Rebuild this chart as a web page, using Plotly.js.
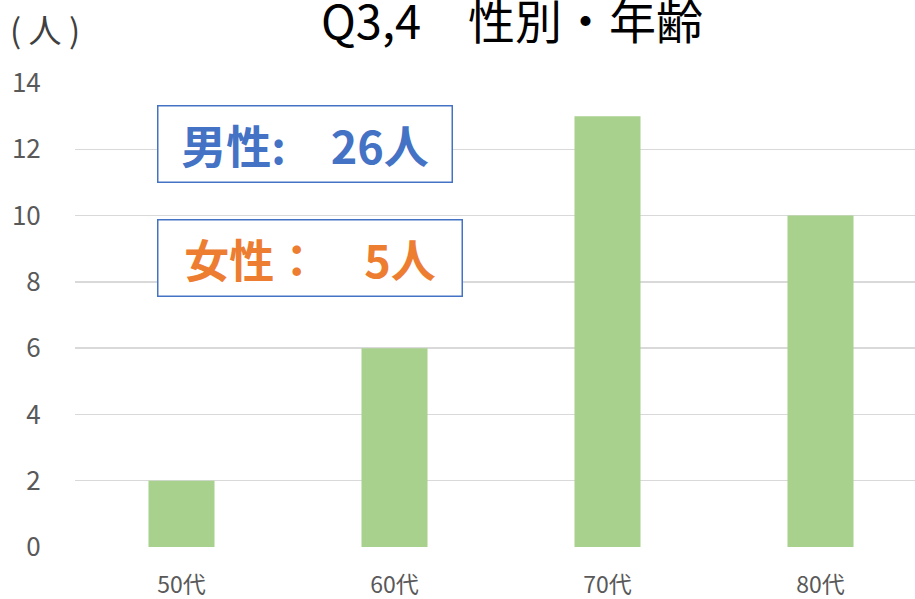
<!DOCTYPE html>
<html><head><meta charset="utf-8">
<script src="https://cdn.plot.ly/plotly-3.0.1.min.js"></script>
<style>html,body{margin:0;padding:0;background:#fff}#chart{width:915px;height:599px}</style>
</head><body><div id="chart"></div>
<script>
const categories = ['50代', '60代', '70代', '80代'];
const counts = [2, 6, 13, 10];
const yTicks = [0, 2, 4, 6, 8, 10, 12, 14];
const titleText = 'Q3,4　性別・年齢';
const yUnit = '( 人 )';
const maleLabel = '男性:　26人';
const femaleLabel = '女性：　5人';

const JP = '"Noto Sans CJK JP", "Noto Sans", sans-serif';
const L = 75, T = 83, W = 840, H = 464;
const px = x => (x - L) / W;
const py = y => (T + H - y) / H;

const trace = {
  type: 'bar', x: categories, y: counts,
  marker: {color: '#A9D18E'}, hoverinfo: 'none'
};

const layout = {
  width: 915, height: 599,
  margin: {l: L, r: 0, t: T, b: 599 - T - H},
  paper_bgcolor: '#fff', plot_bgcolor: '#fff',
  showlegend: false, bargap: 0.69,
  title: {text: titleText, font: {family: JP, size: 47, color: '#000'},
          x: px(512), xref: 'paper', xanchor: 'center', y: 1 - 23/599, yref: 'container', yanchor: 'middle'},
  xaxis: {
    type: 'category', range: [-0.5, -0.5 + W / 213], showgrid: false, zeroline: false,
    showline: false, ticks: 'outside', ticklen: 17, tickcolor: 'rgba(0,0,0,0)',
    tickfont: {family: JP, size: 23, color: '#595959'}
  },
  yaxis: {
    range: [0, 14], tickvals: yTicks, showgrid: true, gridcolor: '#d9d9d9', gridwidth: 1.5,
    zeroline: false, showline: false, ticks: 'outside', ticklen: 28, tickcolor: 'rgba(0,0,0,0)',
    tickfont: {family: JP, size: 26, color: '#595959'}
  },
  annotations: [
    {text: yUnit, xref: 'paper', yref: 'paper', x: px(45), y: py(29), xanchor: 'center', yanchor: 'middle',
     showarrow: false, font: {family: JP, size: 33, color: '#404040'}},
    {text: '<b>' + maleLabel + '</b>', xref: 'paper', yref: 'paper', x: px(305), y: py(144),
     xanchor: 'center', yanchor: 'middle', showarrow: false, width: 293, height: 75, borderpad: 0,
     bordercolor: '#4472C4', borderwidth: 1.5, bgcolor: '#fff', align: 'center', valign: 'middle',
     font: {family: JP, size: 45, color: '#4472C4'}},
    {text: '<b>' + femaleLabel + '</b>', xref: 'paper', yref: 'paper', x: px(310), y: py(258),
     xanchor: 'center', yanchor: 'middle', showarrow: false, width: 303, height: 75, borderpad: 0,
     bordercolor: '#4472C4', borderwidth: 1.5, bgcolor: '#fff', align: 'center', valign: 'middle',
     font: {family: JP, size: 45, color: '#ED7D31'}}
  ]
};
Plotly.newPlot('chart', [trace], layout, {displayModeBar: false, staticPlot: true});
</script></body></html>
